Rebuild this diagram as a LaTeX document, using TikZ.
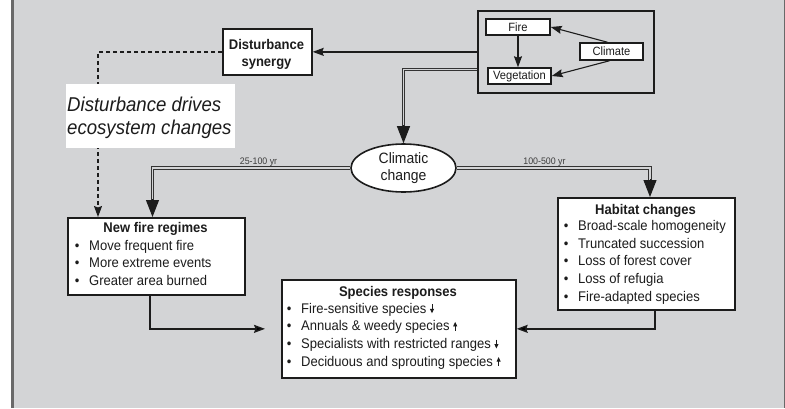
\documentclass[tikz,border=0pt]{standalone}
\usepackage{fontspec}
\setmainfont{Liberation Sans}[FakeStretch=0.93]
\usetikzlibrary{arrows.meta,shapes.geometric}
\definecolor{bg}{RGB}{211,212,214}
\definecolor{edge}{RGB}{105,105,105}
\definecolor{ink}{RGB}{28,28,28}
\newcommand{\bl}{\makebox[24pt][c]{\textbullet}}
\newcommand{\arrdn}{\tikz[baseline=0pt]{\draw[ink,line width=0.8pt,-{Triangle[length=4.5pt,width=4pt]}] (0,9pt)--(0,0);}}
\newcommand{\arrup}{\tikz[baseline=0pt]{\draw[ink,line width=0.8pt,-{Triangle[length=4.5pt,width=4pt]}] (0,0)--(0,9pt);}}
\begin{document}
\begin{tikzpicture}[x=1pt,y=-1pt, font=\fontsize{14}{17.6}\selectfont, text=ink,
  box/.style={draw=ink, line width=1.7pt, fill=white, inner sep=0, anchor=north west},
  smallbox/.style={draw=ink, line width=1.5pt, fill=white, inner sep=0, font=\fontsize{12}{14}\selectfont},
  txt/.style={inner sep=0, anchor=base},
  conn/.style={draw=ink, line width=1.4pt},
  smalltip/.style={-{Stealth[length=11pt,width=8pt,inset=1.5pt]}},
  dbl/.style={draw=ink!90, line width=1pt, double=bg, double distance=1.5pt, line join=miter},
  bigtip/.style={draw=ink, fill=ink, line width=1pt, -{Triangle[length=17pt,width=13pt]}},
  yrlbl/.style={inner sep=0, anchor=base, text=ink!85, font=\fontsize{9.5}{11}\selectfont},
]
\path[use as bounding box] (0,0) rectangle (785,408);
\fill[white] (0,0) rectangle (785,408);
\fill[bg] (14,0) rectangle (785,408);
\fill[edge] (11,0) rectangle (14,408);
\fill[edge] (783.5,0) rectangle (785,408);

% top system box
\node[draw=ink, line width=1.6pt, minimum width=176, minimum height=82, anchor=north west, inner sep=0] (sys) at (477,10) {};
\node[smallbox, minimum width=64, minimum height=16] (fire) at (518,27) {Fire};
\node[smallbox, minimum width=63, minimum height=16] (veg) at (519.5,76) {Vegetation};
\node[smallbox, minimum width=63, minimum height=17] (cl) at (611.5,51.5) {Climate};
\draw[conn, line width=1.1pt, smalltip] (fire.south) -- (fire.south |- veg.north);
\draw[conn, line width=1.1pt, smalltip] ([xshift=-4pt]cl.north) -- (fire.east);
\draw[conn, line width=1.1pt, smalltip] ([xshift=-2pt]cl.south) -- (veg.east);

% disturbance synergy
\node[box, minimum width=89, minimum height=46] (syn) at (222,28) {};
\node[txt, font=\bfseries\fontsize{14}{17}\selectfont] (synT) at (266.5,49) {\begin{tabular}[t]{@{}c@{}}Disturbance\\synergy\end{tabular}};
\draw[conn, smalltip] (sys.west |- syn.east) -- (syn.east);

% main boxes
\node[box, minimum width=177, minimum height=77] (nfr) at (67,217) {};
\node[box, minimum width=177, minimum height=112] (hab) at (557,197) {};
\node[box, minimum width=234, minimum height=98] (sp) at (281,279) {};
\coordinate (nfrin) at ([xshift=85.5pt]nfr.north west);
\coordinate (habin) at ([xshift=93pt]hab.north west);

% dashed connector and label
\draw[conn, dash pattern=on 4pt off 3pt, smalltip] (syn.west) -| ([xshift=31pt]nfr.north west);
\node[fill=white, inner sep=0, minimum width=169, minimum height=64, anchor=north west] (lblbox) at (66,84) {};
\node[inner sep=0, anchor=base west, font=\itshape\fontsize{20}{23}\selectfont] (lbl) at (67,111) {\begin{tabular}[t]{@{}l@{}}Disturbance drives\\ecosystem changes\end{tabular}};

% climatic change
\node[ellipse, draw=ink, line width=1.6pt, fill=white, minimum width=105, minimum height=48, inner sep=0, align=center, font=\fontsize{15}{17.5}\selectfont] (cc) at (403.5,168) {Climatic\\change};
\draw[dbl] ([yshift=-17.5pt]sys.west) -| ([yshift=17pt]cc.north);
\draw[bigtip] ([yshift=18pt]cc.north) -- (cc.north);
\draw[dbl] (cc.west) -| ([yshift=17pt]nfrin);
\draw[bigtip] ([yshift=18pt]nfrin) -- (nfrin);
\draw[dbl] (cc.east) -| ([yshift=17pt]habin);
\draw[bigtip] ([yshift=18pt]habin) -- (habin);
\node[yrlbl] (yr1) at (258.5,164) {25-100 yr};
\node[yrlbl] (yr2) at (544.5,164) {100-500 yr};

% box texts
\node[txt, font=\bfseries\fontsize{14}{17.6}\selectfont] (nfrT) at (155.5,232.5) {New fire regimes};
\node[inner sep=0, anchor=base west] (nfrL) at (65,250) {\begin{tabular}[t]{@{}l@{}}\bl Move frequent fire\\\bl More extreme events\\\bl Greater area burned\end{tabular}};
\node[txt, font=\bfseries\fontsize{14}{17.6}\selectfont] (habT) at (645.5,214) {Habitat changes};
\node[inner sep=0, anchor=base west] (habL) at (554,230.7) {\begin{tabular}[t]{@{}l@{}}\bl Broad-scale homogeneity\\\bl Truncated succession\\\bl Loss of forest cover\\\bl Loss of refugia\\\bl Fire-adapted species\end{tabular}};
\node[txt, font=\bfseries\fontsize{14}{17.6}\selectfont] (spT) at (398,296) {Species responses};
\node[inner sep=0, anchor=base west] (spL) at (277,313.3) {\begin{tabular}[t]{@{}l@{}}\bl Fire-sensitive species \arrdn\\\bl Annuals \& weedy species \arrup\\\bl Specialists with restricted ranges \arrdn\\\bl Deciduous and sprouting species \arrup\end{tabular}};

% bottom connectors
\draw[conn, smalltip] ([xshift=83pt]nfr.south west) |- ([xshift=-16pt]sp.west);
\draw[conn, smalltip] ([xshift=98pt]hab.south west) |- (sp.east);
\end{tikzpicture}
\end{document}
